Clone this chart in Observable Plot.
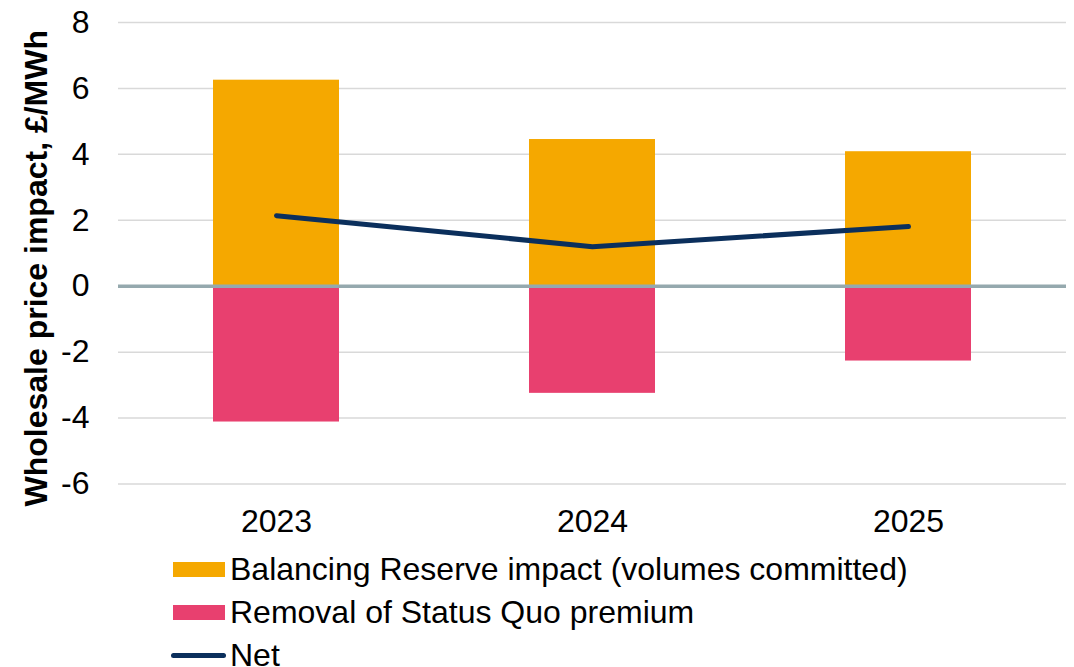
<!DOCTYPE html>
<html>
<head>
<meta charset="utf-8">
<script src="https://cdn.jsdelivr.net/npm/d3@7"></script>
<script src="https://cdn.jsdelivr.net/npm/@observablehq/plot@0.6"></script>
<style>
  html, body { margin: 0; padding: 0; background: #fff; }
  body { width: 1074px; font-family: "Liberation Sans", Arial, sans-serif; }
  #legend { position: relative; height: 122px; }
  .row { position: absolute; left: 0; height: 44px; font-size: 32px; color: #000; white-space: nowrap; }
  .sw { position: absolute; left: 173px; }
  .lbl { position: absolute; left: 230px; line-height: 44px; top: 0; }
</style>
</head>
<body>
<div id="chart"></div>
<div id="legend"></div>
<script>
const years = ["2023", "2024", "2025"];
const balancing = [6.25, 4.45, 4.08];
const removal = [-4.12, -3.25, -2.27];
const net = [2.14, 1.20, 1.81];
const yTicks = [-6, -4, -2, 0, 2, 4, 6, 8];
const seriesNames = ["Balancing Reserve impact (volumes committed)", "Removal of Status Quo premium", "Net"];
const yLabel = "Wholesale price impact, £/MWh";

const colors = { bal: "#F5A800", rem: "#E8406F", net: "#0B2F5C", zero: "#95A9AE", grid: "#D9D9D9" };

const balData = years.map((y, i) => ({ year: y, v: balancing[i] }));
const remData = years.map((y, i) => ({ year: y, v: removal[i] }));
const netData = years.map((y, i) => ({ year: y, v: net[i] }));

const chart = Plot.plot({
  width: 1074,
  height: 545,
  marginLeft: 118,
  marginRight: 8,
  marginTop: 22,
  marginBottom: 61.5,
  style: { fontFamily: "Liberation Sans, Arial, sans-serif", fontSize: "32px", color: "#000", background: "#fff" },
  x: { type: "band", domain: years, paddingInner: 0.6, paddingOuter: 0.3, align: 0.5, label: null },
  y: { domain: [-6, 8], label: null },
  marks: [
    Plot.ruleY(yTicks.filter(t => t !== 0), { stroke: colors.grid, strokeWidth: 1.5 }),
    Plot.barY(balData, { x: "year", y: "v", fill: colors.bal }),
    Plot.barY(remData, { x: "year", y: "v", fill: colors.rem }),
    Plot.ruleY([0], { stroke: colors.zero, strokeWidth: 3.5 }),
    Plot.line(netData, { x: "year", y: "v", stroke: colors.net, strokeWidth: 5, strokeLinecap: "round", strokeLinejoin: "round" }),
    Plot.axisY(yTicks, { tickSize: 0, tickPadding: 29, fontSize: 32, label: null, tickFormat: d => String(d) }),
    Plot.axisX({ tickSize: 0, tickPadding: 25, fontSize: 32, label: null }),
    Plot.text([yLabel], { text: d => d, frameAnchor: "left", rotate: -90, dx: -82, dy: 15, fontSize: 32, fontWeight: "bold", fill: "#000", textAnchor: "middle", lineAnchor: "middle" })
  ]
});
document.getElementById("chart").appendChild(chart);

// Legend
const legend = document.getElementById("legend");
const rowTops = [2, 45, 88];
const kinds = ["rect", "rect", "line"];
const swColors = [colors.bal, colors.rem, colors.net];
seriesNames.forEach((name, i) => {
  const row = document.createElement("div");
  row.className = "row";
  row.style.top = rowTops[i] + "px";
  row.style.width = "1074px";
  const sw = document.createElement("div");
  sw.className = "sw";
  if (kinds[i] === "rect") {
    sw.style.width = "52px"; sw.style.height = "15px"; sw.style.top = "15px";
    sw.style.background = swColors[i];
  } else {
    sw.style.width = "55px"; sw.style.height = "5px"; sw.style.top = "20px"; sw.style.left = "171px";
    sw.style.background = swColors[i]; sw.style.borderRadius = "3px";
  }
  const lbl = document.createElement("span");
  lbl.className = "lbl";
  lbl.textContent = name;
  row.appendChild(sw);
  row.appendChild(lbl);
  legend.appendChild(row);
});
</script>
</body>
</html>
